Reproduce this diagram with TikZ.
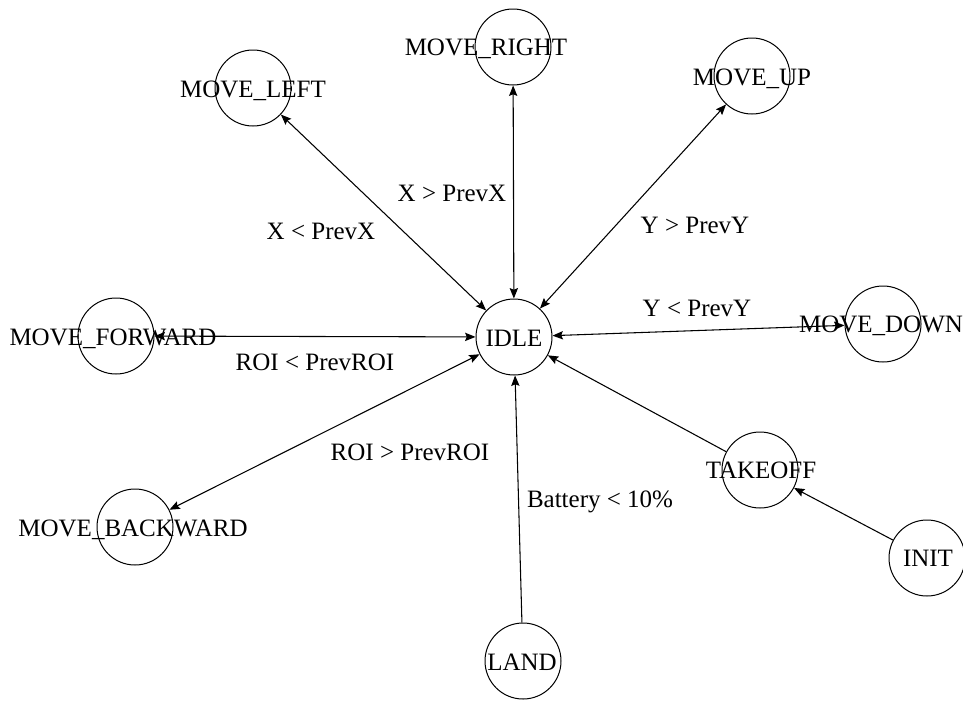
\documentclass[tikz,border=0pt]{standalone}
\usepackage{fontspec}
\setmainfont{Liberation Serif}
\usetikzlibrary{arrows.meta}
\begin{document}
\begin{tikzpicture}[x=0.75pt,y=-0.75pt,
  state/.style={circle,draw=black,line width=0.75pt,minimum size=57pt,inner sep=0pt},
  txt/.style={inner sep=0pt,text height=12.4pt,text depth=0pt,font=\fontsize{18.75}{22}\selectfont},
  conn/.style={line width=0.8pt,draw=black},
  >={Stealth[length=7.8pt,width=6.2pt,inset=1.2pt]}]
\useasboundingbox (0,0) rectangle (963,700);
% states
\node[state] (idle) at (514,337) {};
\node[state] (right) at (513,47) {};
\node[state] (left) at (253,88) {};
\node[state] (up) at (752,76) {};
\node[state] (fwd) at (116,336) {};
\node[state] (down) at (883,324) {};
\node[state] (back) at (135,527) {};
\node[state] (takeoff) at (760,470) {};
\node[state] (init) at (927,558) {};
\node[state] (land) at (523,661) {};
% state names
\node[txt] (tidle) at (514,338) {IDLE};
\node[txt] (tright) at (486,47) {MOVE\_RIGHT};
\node[txt] (tleft) at (253,89) {MOVE\_LEFT};
\node[txt] (tup) at (752,77) {MOVE\_UP};
\node[txt] (tfwd) at (113,337) {MOVE\_FORWARD};
\node[txt] (tdown) at (881,324) {MOVE\_DOWN};
\node[txt] (tback) at (133,528) {MOVE\_BACKWARD};
\node[txt] (ttakeoff) at (761,470) {TAKEOFF};
\node[txt] (tinit) at (928,558) {INIT};
\node[txt] (tland) at (522,662) {LAND};
% connectors
\draw[conn,<->] (left) -- (idle);
\draw[conn,<->] (right) -- (idle);
\draw[conn,<->] (up) -- (idle);
\draw[conn,<->] (fwd) -- (idle);
\draw[conn,<->] (down) -- (idle);
\draw[conn,<->] (back) -- (idle);
\draw[conn,->] (land) -- (idle);
\draw[conn,->] (takeoff) -- (idle);
\draw[conn,->] (init) -- (takeoff);
% edge labels
\node[txt] (lxgt) at (452,193) {X > PrevX};
\node[txt] (lxlt) at (321,231) {X < PrevX};
\node[txt] (lygt) at (695,225) {Y > PrevY};
\node[txt] (lylt) at (697,308) {Y < PrevY};
\node[txt] (lroilt) at (315,362) {ROI < PrevROI};
\node[txt] (lroigt) at (410,452) {ROI > PrevROI};
\node[txt] (lbat) at (600,499) {Battery < 10\%};
\end{tikzpicture}
\end{document}
